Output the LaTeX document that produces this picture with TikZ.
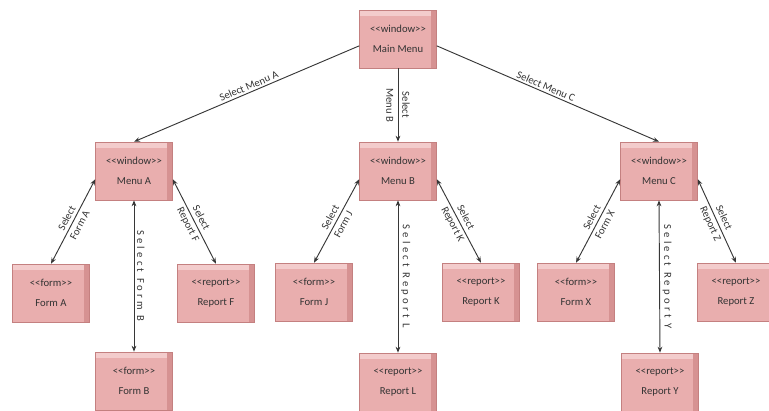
\documentclass[tikz,border=0pt]{standalone}
\usepackage{fontspec}
\setmainfont{Carlito}
\usepackage{tikz}
\usetikzlibrary{arrows.meta}
\definecolor{boxfill}{RGB}{233,174,174}
\definecolor{boxtop}{RGB}{243,204,204}
\definecolor{boxside}{RGB}{214,146,146}
\definecolor{boxline}{RGB}{196,128,128}
\definecolor{linkcol}{RGB}{55,55,55}
\newcommand\stereo[1]{<\kern0pt<#1>\kern0pt>}

\begin{document}
\begin{tikzpicture}[x=0.75pt,y=-0.75pt,
  every node/.style={font=\fontsize{8}{11}\selectfont, text=black!80},
  umlbox/.style={rectangle, draw=boxline, fill=boxfill, minimum width=57.75pt,
    minimum height=43.5pt, align=center, font=\fontsize{8}{15}\selectfont,
    execute at begin node={\rule{0pt}{15pt}},
    path picture={
      \fill[boxtop] (path picture bounding box.north west) rectangle ([yshift=-4.5pt]path picture bounding box.north east);
      \fill[boxside] ([xshift=-4pt]path picture bounding box.north east) rectangle (path picture bounding box.south east);
    }},
  link/.style={draw=linkcol, line width=0.7pt, -{Stealth[length=4.5pt,width=3.5pt]}},
  dlink/.style={link, {Stealth[length=4.5pt,width=3.5pt]}-{Stealth[length=4.5pt,width=3.5pt]}},
  lbl/.style={sloped, align=center, inner sep=1.5pt},
  vlbl/.style={sloped, above, inner sep=2pt,
    font=\fontsize{8}{10}\selectfont\addfontfeatures{LetterSpace=30}}]
\useasboundingbox (0,0) rectangle (769,411);

\node[umlbox] (main) at (398,39) {\stereo{window}\\Main Menu};
\node[umlbox] (menuA) at (134,171) {\stereo{window}\\Menu A};
\node[umlbox] (menuB) at (398,171) {\stereo{window}\\Menu B};
\node[umlbox] (menuC) at (659,171) {\stereo{window}\\Menu C};
\node[umlbox] (formA) at (51,293) {\stereo{form}\\Form A};
\node[umlbox] (reportF) at (216,293) {\stereo{report}\\Report F};
\node[umlbox] (formB) at (134,381) {\stereo{form}\\Form B};
\node[umlbox] (formJ) at (314,292) {\stereo{form}\\Form J};
\node[umlbox] (reportK) at (481,292) {\stereo{report}\\Report K};
\node[umlbox] (reportL) at (398,382) {\stereo{report}\\Report L};
\node[umlbox] (formX) at (576,292) {\stereo{form}\\Form X};
\node[umlbox] (reportZ) at (736,292) {\stereo{report}\\Report Z};
\node[umlbox] (reportY) at (660,382) {\stereo{report}\\Report Y};

\draw[link] (main.190) -- node[lbl,above,pos=.48] {Select Menu A} (menuA.north);
\draw[link] (main.south) -- node[lbl] {Select\\[1pt]Menu B} (menuB.north);
\draw[link] (main.350) -- node[lbl,above,pos=.48] {Select Menu C} (menuC.north);

\draw[dlink] (menuA.192) -- node[lbl] {Select\\Form A} (formA.north);
\draw[dlink] (menuA.348) -- node[lbl] {Select\\Report F} (reportF.north);
\draw[dlink] (menuA.south) -- node[vlbl] {Select Form B} (formB.north);

\draw[dlink] (menuB.192) -- node[lbl] {Select\\Form J} (formJ.north);
\draw[dlink] (menuB.348) -- node[lbl] {Select\\Report K} (reportK.north);
\draw[dlink] (menuB.south) -- node[vlbl] {Select Report L} (reportL.north);

\draw[dlink] (menuC.192) -- node[lbl] {Select\\Form X} (formX.north);
\draw[dlink] (menuC.348) -- node[lbl] {Select\\Report Z} (reportZ.north);
\draw[dlink] (menuC.south) -- node[vlbl] {Select Report Y} (reportY.north);
\end{tikzpicture}
\end{document}
